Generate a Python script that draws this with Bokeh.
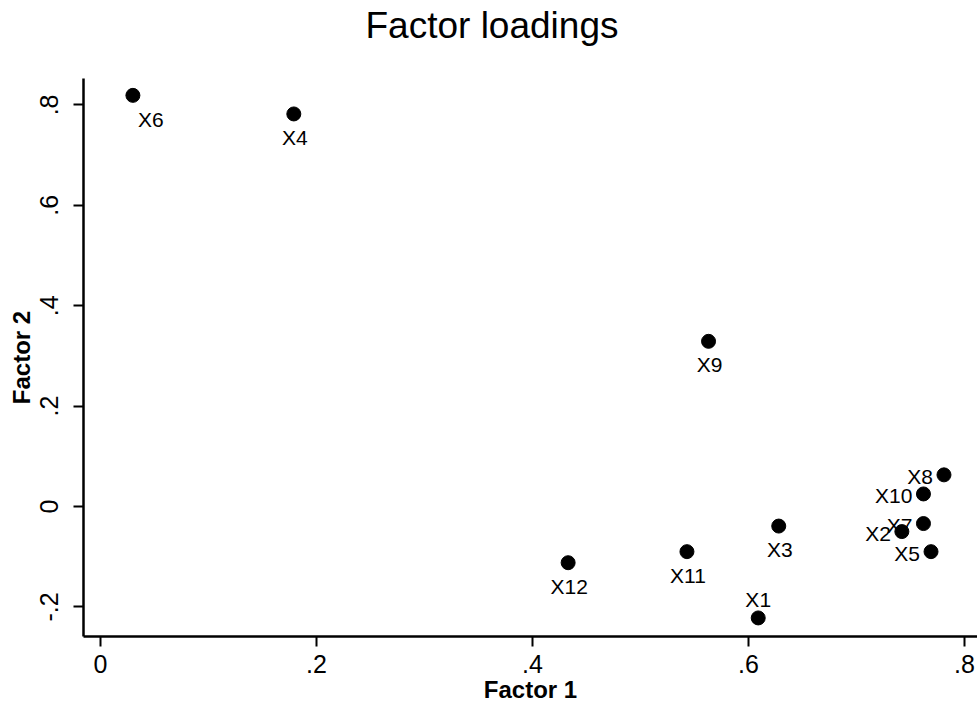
from bokeh.plotting import figure
from bokeh.models import ColumnDataSource, Range1d, FixedTicker, Title
from bokeh.embed import file_html
from bokeh.resources import INLINE
from bokeh.core.properties import value

# ---- data ----
variables = ["X1", "X2", "X3", "X4", "X5", "X6", "X7", "X8", "X9", "X10", "X11", "X12"]
factor1 = [0.609, 0.742, 0.628, 0.179, 0.769, 0.030, 0.762, 0.781, 0.563, 0.762, 0.543, 0.433]
factor2 = [-0.222, -0.050, -0.039, 0.782, -0.090, 0.819, -0.034, 0.063, 0.329, 0.025, -0.090, -0.112]
label_clock = [12, 9, 6, 6, 9, 5, 9, 9, 6, 9, 6, 6]

x_ticks = [0, 0.2, 0.4, 0.6, 0.8]
x_tick_labels = ["0", ".2", ".4", ".6", ".8"]
y_ticks = [-0.2, 0, 0.2, 0.4, 0.6, 0.8]
y_tick_labels = ["-.2", "0", ".2", ".4", ".6", ".8"]

title_text = "Factor loadings"
x_title = "Factor 1"
y_title = "Factor 2"

# ---- label placement styles (clock positions) ----
clock_style = {
    12: dict(dx=0, dy=-18, align="center"),
    6: dict(dx=1, dy=23.5, align="center"),
    5: dict(dx=18, dy=24.5, align="center"),
    9: dict(dx=-11, dy=1.5, align="right"),
}

src = ColumnDataSource(dict(
    x=factor1, y=factor2, name=variables,
    dx=[clock_style[c]["dx"] for c in label_clock],
    dy=[clock_style[c]["dy"] for c in label_clock],
    align=[clock_style[c]["align"] for c in label_clock],
))

FONT = "Liberation Sans"

p = figure(width=977, height=706, output_backend="svg", toolbar_location=None,
           x_range=Range1d(-0.01574, 0.81204), y_range=Range1d(-0.259, 0.8526),
           min_border_left=83, min_border_right=0, min_border_top=78, min_border_bottom=70)

# spacer (nearest the frame) and the real title above it
p.add_layout(Title(text=" ", text_font_size="1px", standoff=28, text_color="white"), "above")
p.add_layout(Title(text=title_text, text_font=FONT, text_font_size="37px",
                   text_font_style="normal", text_color="black",
                   align="left", offset=282, vertical_align="top", standoff=0), "above")

p.outline_line_color = None
p.xgrid.grid_line_color = None
p.ygrid.grid_line_color = None
p.background_fill_color = "white"
p.border_fill_color = "white"

p.xaxis.ticker = FixedTicker(ticks=x_ticks)
p.yaxis.ticker = FixedTicker(ticks=y_ticks)
p.xaxis.major_label_overrides = dict(zip(x_ticks, x_tick_labels))
p.yaxis.major_label_overrides = dict(zip(y_ticks, y_tick_labels))
p.yaxis.major_label_orientation = "vertical"

for ax in (p.xaxis, p.yaxis):
    ax.axis_line_color = "black"
    ax.axis_line_width = 2.5
    ax.major_tick_line_color = "black"
    ax.major_tick_line_width = 2
    ax.major_tick_in = 0
    ax.major_tick_out = 10
    ax.minor_tick_line_color = None
    ax.major_label_text_font = FONT
    ax.major_label_text_font_size = "25px"
    ax.major_label_text_color = "black"
    ax.axis_label_text_font = FONT
    ax.axis_label_text_font_size = "24px"
    ax.axis_label_text_font_style = "bold"
    ax.axis_label_text_color = "black"

p.xaxis.major_label_standoff = 8
p.xaxis.axis_label_standoff = 0
p.yaxis.major_label_standoff = 15
p.yaxis.axis_label_standoff = 3

p.xaxis.axis_label = x_title
p.yaxis.axis_label = y_title

p.text(x="x", y="y", text="name", source=src, x_offset="dx", y_offset="dy",
       text_align="align", text_baseline="middle",
       text_font=value(FONT), text_font_size="21px", text_color="black")

p.scatter(x="x", y="y", source=src, size=14, fill_color="black", line_color="black")

open("out.html", "w").write(file_html(p, INLINE))
